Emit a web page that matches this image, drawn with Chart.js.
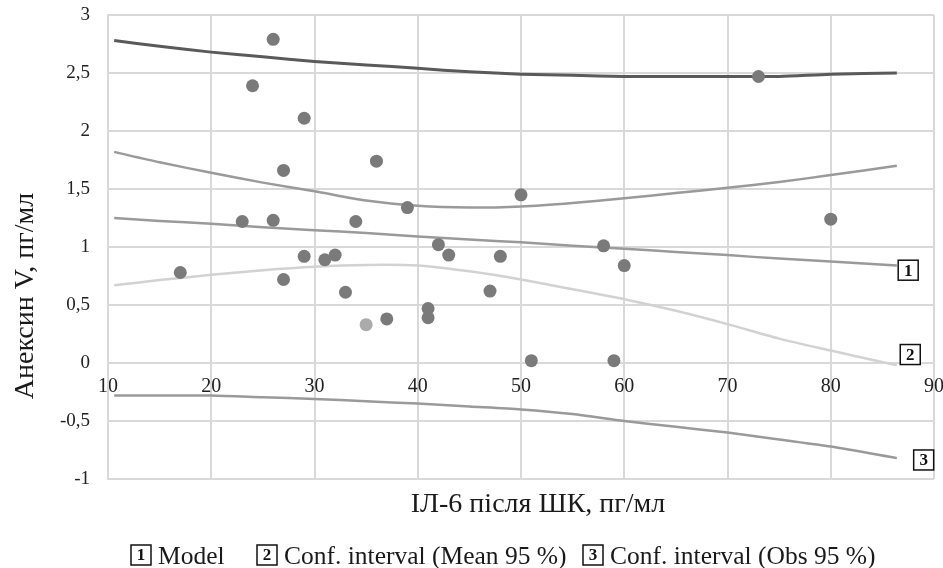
<!DOCTYPE html>
<html>
<head>
<meta charset="utf-8">
<script src="https://cdn.jsdelivr.net/npm/chart.js@4"></script>
<style>
  html, body { margin: 0; padding: 0; background: #fff; }
</style>
</head>
<body>
<canvas id="chart" width="943" height="568"></canvas>
<script>
// observed points: IL-6 after surgery vs annexin V
var ilX = [17, 23, 24, 26, 26, 27, 27, 29, 29, 31, 32, 33, 34, 35, 36, 37, 39, 41, 41, 42, 43, 47, 48, 50, 51, 58, 59, 60, 73, 80];
var anexY = [0.78, 1.22, 2.39, 2.79, 1.23, 1.66, 0.72, 2.11, 0.92, 0.89, 0.93, 0.61, 1.22, 0.33, 1.74, 0.38, 1.34, 0.47, 0.39, 1.02, 0.93, 0.62, 0.92, 1.45, 0.02, 1.01, 0.02, 0.84, 2.47, 1.24];

var curveX = [10.6, 15, 20, 25, 30, 35, 40, 45, 50, 55, 60, 65, 70, 75, 80, 86.4];
var model = [1.25, 1.225, 1.20, 1.17, 1.145, 1.12, 1.09, 1.065, 1.04, 1.01, 0.985, 0.957, 0.93, 0.90, 0.876, 0.84];
var meanUp = [1.82, 1.73, 1.64, 1.555, 1.48, 1.40, 1.355, 1.34, 1.35, 1.38, 1.42, 1.465, 1.51, 1.56, 1.62, 1.70];
var meanLow = [0.67, 0.715, 0.76, 0.80, 0.83, 0.845, 0.84, 0.79, 0.72, 0.635, 0.55, 0.45, 0.335, 0.21, 0.107, -0.02];
var obsUp = [2.78, 2.73, 2.68, 2.64, 2.60, 2.57, 2.54, 2.51, 2.49, 2.48, 2.47, 2.47, 2.47, 2.47, 2.49, 2.50];
var obsLow = [-0.28, -0.28, -0.28, -0.295, -0.31, -0.33, -0.35, -0.375, -0.40, -0.44, -0.50, -0.55, -0.60, -0.66, -0.72, -0.82];

var xTicks = [10, 20, 30, 40, 50, 60, 70, 80, 90];
var yTicks = [-1, -0.5, 0, 0.5, 1, 1.5, 2, 2.5, 3];
var legendLabels = ['Model', 'Conf. interval (Mean 95 %)', 'Conf. interval (Obs 95 %)'];
var xTitle = 'ІЛ-6 після ШК, пг/мл';
var yTitle = 'Анексин V, пг/мл';

var SERIF = '"Liberation Serif", "DejaVu Serif", serif';
Chart.defaults.font.family = SERIF;

function curve(label, values, color, width) {
  return {
    label: label,
    data: curveX.map(function (x, i) { return { x: x, y: values[i] }; }),
    showLine: true,
    pointRadius: 0,
    pointHoverRadius: 0,
    borderColor: color,
    borderWidth: width,
    tension: 0.25,
    fill: false
  };
}

function boxedDigit(ctx, cx, cy, text) {
  ctx.save();
  ctx.fillStyle = '#fff';
  ctx.fillRect(cx - 10, cy - 10, 20, 20);
  ctx.strokeStyle = '#111';
  ctx.lineWidth = 1.5;
  ctx.strokeRect(cx - 10, cy - 10, 20, 20);
  ctx.fillStyle = '#111';
  ctx.font = 'bold 17px ' + SERIF;
  ctx.textAlign = 'center';
  ctx.textBaseline = 'middle';
  ctx.fillText(text, cx, cy + 1);
  ctx.restore();
}

// keep the plot box where the layout padding puts it
function noPadding(s) {
  s.paddingLeft = 0;
  s.paddingRight = 0;
  s.paddingTop = 0;
  s.paddingBottom = 0;
}

// titles, boxed end labels and the legend row
var extras = {
  id: 'extras',
  afterDraw: function (chart) {
    var ctx = chart.ctx;
    var sx = chart.scales.x, sy = chart.scales.y;

    // boxed numbers at the end of the lines
    var ends = [[87.5, 0.80], [87.7, 0.073], [89.0, -0.836]];
    ends.forEach(function (p, i) {
      boxedDigit(ctx, sx.getPixelForValue(p[0]), sy.getPixelForValue(p[1]), String(i + 1));
    });

    ctx.save();
    ctx.fillStyle = '#1a1a1a';
    ctx.font = '28px ' + SERIF;
    ctx.textAlign = 'center';
    ctx.textBaseline = 'alphabetic';
    ctx.fillText(xTitle, 538, 512);

    ctx.translate(33, 296);
    ctx.rotate(-Math.PI / 2);
    ctx.fillText(yTitle, 0, 0);
    ctx.restore();

    // legend
    var starts = [131, 257, 583];
    ctx.save();
    ctx.font = '25.5px ' + SERIF;
    ctx.fillStyle = '#1a1a1a';
    ctx.textBaseline = 'alphabetic';
    legendLabels.forEach(function (lab, i) {
      boxedDigit(ctx, starts[i] + 10, 555, String(i + 1));
      ctx.fillText(lab, starts[i] + 27, 564);
    });
    ctx.restore();
  }
};

var ctx = document.getElementById('chart').getContext('2d');
var chart = new Chart(ctx, {
  type: 'scatter',
  data: {
    datasets: [
      {
        label: 'points',
        data: ilX.map(function (x, i) { return { x: x, y: anexY[i] }; }),
        pointRadius: 6.5,
        pointHoverRadius: 6.5,
        borderWidth: 0,
        backgroundColor: function (c) { return c.dataIndex === 13 ? '#ababab' : '#7a7a7a'; }
      },
      curve('Conf. interval (Obs 95 %) upper', obsUp, '#5a5a5a', 3),
      curve('Conf. interval (Mean 95 %) upper', meanUp, '#9a9a9a', 2.5),
      curve('Model', model, '#9a9a9a', 2.5),
      curve('Conf. interval (Mean 95 %) lower', meanLow, '#d2d2d2', 2.5),
      curve('Conf. interval (Obs 95 %) lower', obsLow, '#9a9a9a', 2.5)
    ]
  },
  options: {
    responsive: false,
    animation: false,
    layout: { padding: { left: 10, right: 9, top: 15, bottom: 89 } },
    plugins: { legend: { display: false }, tooltip: { enabled: false } },
    scales: {
      x: {
        type: 'linear',
        min: 10,
        max: 90,
        position: { y: 0 },
        afterBuildTicks: function (s) { s.ticks = xTicks.map(function (v) { return { value: v }; }); },
        afterFit: noPadding,
        grid: { color: '#d9d9d9', lineWidth: 2, drawTicks: false },
        border: { display: false },
        ticks: { padding: 12, color: '#222', font: { size: 20 } }
      },
      y: {
        min: -1,
        max: 3,
        afterBuildTicks: function (s) { s.ticks = yTicks.map(function (v) { return { value: v }; }); },
        afterFit: function (s) { s.width = 98; noPadding(s); },
        grid: { color: '#d9d9d9', lineWidth: 2, drawTicks: false },
        border: { display: true, color: '#d9d9d9', width: 2 },
        ticks: {
          padding: 18,
          color: '#222',
          font: { size: 19 },
          callback: function (v) { return String(v).replace('.', ','); }
        }
      }
    }
  },
  plugins: [extras]
});
</script>
</body>
</html>
